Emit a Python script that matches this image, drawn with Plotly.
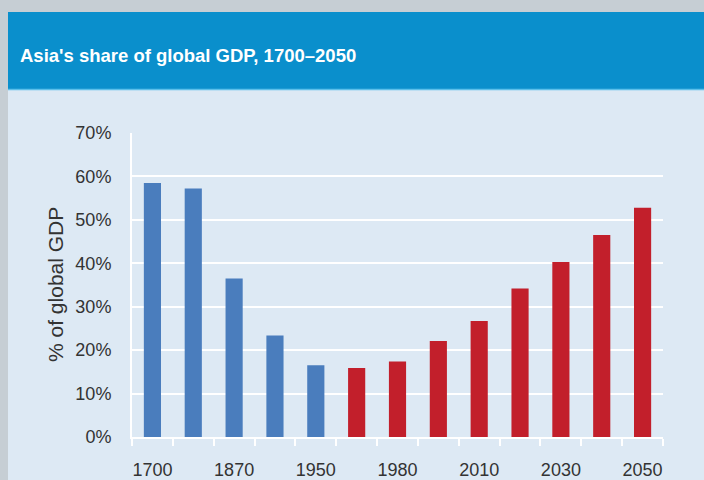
import plotly.graph_objects as go

# ---- data ----
categories = ["1700", "1820", "1870", "1913", "1950", "1973", "1980",
              "2000", "2010", "2020", "2030", "2040", "2050"]
shares = [58.5, 57.2, 36.5, 23.4, 16.5, 15.9, 17.4, 22.1, 26.7, 34.2, 40.3, 46.5, 52.8]
blue_categories = categories[:5]
blue_values = shares[:5]
red_categories = categories[5:]
red_values = shares[5:]
tick_labels = ["1700", "1870", "1950", "1980", "2010", "2030", "2050"]
y_ticks = [0, 10, 20, 30, 40, 50, 60, 70]
y_tick_labels = ["0%", "10%", "20%", "30%", "40%", "50%", "60%", "70%"]

title_text = "Asia's share of global GDP, 1700–2050"
y_title = "% of global GDP"

# ---- layout geometry (pixels) ----
W, H = 704, 480
L, R, T, B = 132, 663, 133, 437
pw, ph = R - L, B - T


def px_x(x):
    return (x - L) / pw


def px_y(y):
    return (B - y) / ph


BLUE = "#4a7dbd"
RED = "#c21f2b"
GRAY = "#c6ced4"
BODY = "#dde9f4"
HEADER = "#0a8fcc"
TEXT = "#333333"

fig = go.Figure()
fig.add_trace(go.Bar(x=blue_categories, y=blue_values, marker=dict(color=BLUE, line=dict(width=0)),
                     showlegend=False, hoverinfo="skip"))
fig.add_trace(go.Bar(x=red_categories, y=red_values, marker=dict(color=RED, line=dict(width=0)),
                     showlegend=False, hoverinfo="skip"))

ticktext = [c if c in tick_labels else "" for c in categories]

fig.update_layout(
    width=W, height=H,
    margin=dict(l=L, r=W - R, t=T, b=H - B, pad=0, autoexpand=False),
    paper_bgcolor=GRAY,
    plot_bgcolor="rgba(0,0,0,0)",
    barmode="overlay",
    bargap=0.58,
    font=dict(family="Liberation Sans, Arial, sans-serif", size=18, color=TEXT),
    xaxis=dict(
        type="category",
        categoryorder="array", categoryarray=categories,
        tickmode="array", tickvals=categories, ticktext=ticktext,
        tickson="boundaries", tickangle=0, automargin=False,
        ticks="outside", ticklen=7, tickwidth=1.5, tickcolor="white",
        ticklabelstandoff=15,
        showline=True, linecolor="white", linewidth=2,
        showgrid=False, zeroline=False,
        tickfont=dict(size=18, color=TEXT),
    ),
    yaxis=dict(
        range=[0, 70], automargin=False,
        tickmode="array", tickvals=y_ticks, ticktext=y_tick_labels,
        showgrid=True, gridcolor="white", gridwidth=2,
        showline=True, linecolor="white", linewidth=2,
        zeroline=False,
        ticks="", ticklabelstandoff=15,
        tickfont=dict(size=18, color=TEXT),
    ),
    shapes=[
        # light body
        dict(type="rect", xref="paper", yref="paper", layer="below",
             x0=px_x(8), x1=px_x(W + 2), y0=px_y(H + 2), y1=px_y(12),
             fillcolor=BODY, line=dict(width=0)),
        # header band
        dict(type="rect", xref="paper", yref="paper", layer="below",
             x0=px_x(8), x1=px_x(W + 2), y0=px_y(89), y1=px_y(12),
             fillcolor=HEADER, line=dict(width=0)),
        # thin light line under header
        dict(type="line", xref="paper", yref="paper", layer="below",
             x0=px_x(8), x1=px_x(W + 2), y0=px_y(89.5), y1=px_y(89.5),
             line=dict(color="#5cc0ea", width=1.5)),
    ],
    annotations=[
        dict(text="<b>" + title_text + "</b>", xref="paper", yref="paper",
             x=px_x(18), y=px_y(56), xanchor="left", yanchor="middle", showarrow=False,
             font=dict(family="Liberation Sans, Arial, sans-serif", size=18.5, color="white")),
        dict(text=y_title, xref="paper", yref="paper",
             x=px_x(55), y=px_y(285), xanchor="center", yanchor="middle", showarrow=False,
             textangle=-90,
             font=dict(family="Liberation Sans, Arial, sans-serif", size=21, color=TEXT)),
    ],
)

fig.write_html("out.html")
